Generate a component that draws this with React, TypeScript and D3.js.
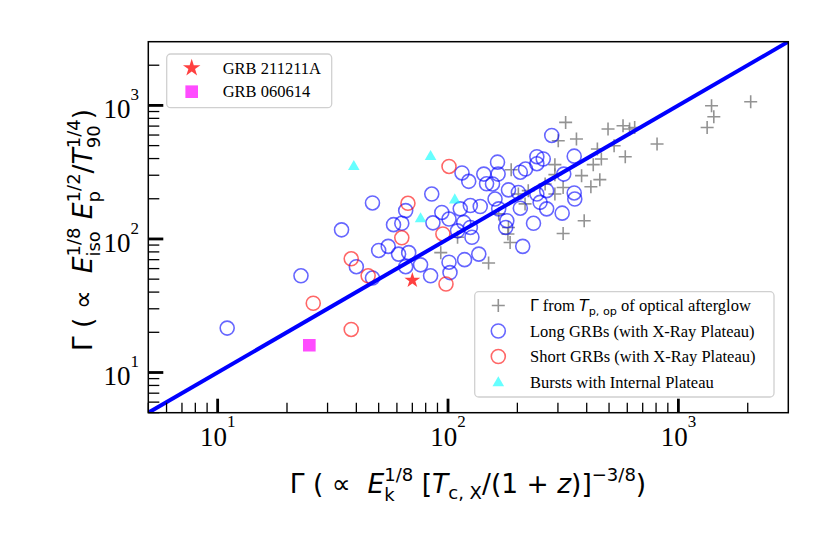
import React, { useRef, useEffect } from "react";
import * as d3 from "d3";

// Gamma from the peak time of the optical afterglow (grey plus)
const opticalX = [2060, 1393, 1425, 1333, 808, 495, 575, 614, 646, 445, 463, 427, 526, 588, 324, 361, 301, 380, 456, 417, 316, 390, 316, 291, 291, 264, 188, 202, 216, 166, 183, 182, 186, 110, 93, 150, 223, 291];
const opticalY = [1066, 995, 823, 684, 514, 666, 705, 666, 684, 472, 397, 360, 499, 413, 746, 560, 544, 298, 278, 246, 243, 137, 110, 360, 303, 258, 330, 217, 183, 154, 122, 109, 94, 103, 79, 66, 230, 217];

// Long GRBs with an X-ray plateau (blue rings)
const longX = [47, 34.5, 23, 11, 85, 65.5, 58, 63, 55, 50, 61, 67.5, 65.5, 76, 84, 40, 47, 94, 86, 115, 123, 143, 147, 164, 165, 156, 206, 217, 243, 259, 243, 318, 353, 282, 353, 355, 313, 183, 202, 243, 268, 160, 166, 138, 125, 113, 101, 110, 117, 127, 125, 180, 178, 251, 268, 235, 211, 136, 118, 101, 102, 206];
const longY = [186, 117, 53, 21.5, 217, 163, 128, 131, 88, 82, 77, 79, 62, 64, 53, 62, 51, 158, 132, 312, 270, 306, 259, 376, 306, 258, 316, 334, 413, 397, 366, 306, 417, 596, 221, 199, 156, 233, 223, 217, 230, 199, 168, 175, 178, 168, 141, 115, 133, 103, 122, 137, 122, 188, 168, 131, 88, 77, 70, 67, 56, 170];

// Short GRBs with an X-ray plateau (red rings)
const shortX = [67, 63, 38, 45, 26, 38, 101, 95, 98];
const shortY = [185, 102, 71, 53, 33, 21, 349, 109, 46];

// Bursts with an internal plateau (cyan triangles)
const internalX = [39, 84, 107, 76];
const internalY = [354, 420, 199, 144];

const grb211211A = [70, 49];
const grb060614 = [25, 16];

const domain = [5, 3000];
const majorTicks = [10, 100, 1000];
const majorExponents = ["1", "2", "3"];

const SANS = "'DejaVu Sans', sans-serif";
const SERIF = "'Liberation Serif', 'Times New Roman', serif";

type Seg = { t: string; f?: "sans" | "serif"; it?: boolean; s?: number; dy?: number };
type Piece = Seg | { sup: Seg; sub: Seg };

// lay out a mathtext-like label piece by piece, returns its width
function drawMath(g: d3.Selection<SVGGElement, unknown, null, undefined>, pieces: Piece[], size: number, fill = "#000") {
  let cx = 0;
  const put = (seg: Seg, x0: number) => {
    const el = g
      .append("text")
      .attr("x", x0)
      .attr("y", (seg.dy ?? 0) * size)
      .attr("font-family", seg.f === "serif" ? SERIF : SANS)
      .attr("font-size", size * (seg.s ?? 1))
      .attr("font-style", seg.it ? "italic" : "normal")
      .attr("fill", fill)
      .style("white-space", "pre")
      .text(seg.t);
    return (el.node() as SVGTextElement).getComputedTextLength();
  };
  for (const p of pieces) {
    if ("sup" in p) {
      const w1 = put(p.sup, cx);
      const w2 = put(p.sub, cx);
      cx += Math.max(w1, w2);
    } else {
      cx += put(p, cx);
    }
  }
  return cx;
}

const sup = (t: string): Seg => ({ t, s: 0.68, dy: -0.45 });
const sub = (t: string): Seg => ({ t, s: 0.68, dy: 0.3 });

export default function App() {
  const svgRef = useRef<SVGSVGElement>(null);

  useEffect(() => {
    if (!svgRef.current) return;
    const svg = d3.select(svgRef.current);
    svg.selectAll("*").remove();

    const left = 148.3, right = 788.3, top = 41.7, bottom = 412.7;
    const x = d3.scaleLog().domain(domain).range([left, right]);
    const y = d3.scaleLog().domain(domain).range([bottom, top]);

    svg.append("rect").attr("width", 830).attr("height", 554).attr("fill", "#fff");

    svg
      .append("clipPath")
      .attr("id", "plotClip")
      .append("rect")
      .attr("x", left)
      .attr("y", top)
      .attr("width", right - left)
      .attr("height", bottom - top);

    const plot = svg.append("g").attr("clip-path", "url(#plotClip)");

    // grey plus markers
    const plus = "M-6.5,0H6.5M0,-6.5V6.5";
    plot
      .selectAll(".opt")
      .data(opticalX.map((v, i) => [v, opticalY[i]]))
      .join("path")
      .attr("d", plus)
      .attr("transform", (d) => `translate(${x(d[0])},${y(d[1])})`)
      .attr("stroke", "#808080")
      .attr("stroke-opacity", 0.85)
      .attr("stroke-width", 1.6)
      .attr("fill", "none");

    // open rings
    const ringR = 7;
    const rings = (xs: number[], ys: number[], color: string) =>
      plot
        .append("g")
        .selectAll("circle")
        .data(xs.map((v, i) => [v, ys[i]]))
        .join("circle")
        .attr("cx", (d) => x(d[0]))
        .attr("cy", (d) => y(d[1]))
        .attr("r", ringR)
        .attr("fill", "none")
        .attr("stroke", color)
        .attr("stroke-opacity", 0.6)
        .attr("stroke-width", 1.6);
    rings(longX, longY, "blue");
    rings(shortX, shortY, "red");

    const tri = d3.symbol(d3.symbolTriangle, 58)()!;
    plot
      .selectAll(".tri")
      .data(internalX.map((v, i) => [v, internalY[i]]))
      .join("path")
      .attr("d", tri)
      .attr("transform", (d) => `translate(${x(d[0])},${y(d[1]) + 1})`)
      .attr("fill", "cyan")
      .attr("fill-opacity", 0.6);

    // Gamma = Gamma line
    plot
      .append("path")
      .attr("d", d3.line<number>().x((d) => x(d)).y((d) => y(d))(domain)!)
      .attr("stroke", "blue")
      .attr("stroke-width", 4)
      .attr("fill", "none");

    const star = d3.symbol(d3.symbolStar, 78)()!;
    const square = d3.symbol(d3.symbolSquare, 160)()!;
    plot
      .append("path")
      .attr("d", star)
      .attr("transform", `translate(${x(grb211211A[0])},${y(grb211211A[1])})`)
      .attr("fill", "red")
      .attr("fill-opacity", 0.75);
    plot
      .append("path")
      .attr("d", square)
      .attr("transform", `translate(${x(grb060614[0])},${y(grb060614[1])})`)
      .attr("fill", "magenta")
      .attr("fill-opacity", 0.7);

    // ticks (inward, bottom and left only)
    const minor: number[] = [];
    [1, 10, 100, 1000].forEach((dec) => {
      for (let k = 2; k <= 9; k++) {
        const v = k * dec;
        if (v >= domain[0] && v < domain[1]) minor.push(v);
      }
    });
    const axes = svg.append("g").attr("stroke", "#000");
    minor.forEach((v) => {
      axes.append("line").attr("x1", x(v)).attr("x2", x(v)).attr("y1", bottom).attr("y2", bottom - 10).attr("stroke-width", 1.3);
      axes.append("line").attr("y1", y(v)).attr("y2", y(v)).attr("x1", left).attr("x2", left + 11).attr("stroke-width", 1.3);
    });
    majorTicks.forEach((v) => {
      axes.append("line").attr("x1", x(v)).attr("x2", x(v)).attr("y1", bottom).attr("y2", bottom - 14).attr("stroke-width", 2.8);
      axes.append("line").attr("y1", y(v)).attr("y2", y(v)).attr("x1", left).attr("x2", left + 15).attr("stroke-width", 2.8);
    });

    svg
      .append("rect")
      .attr("x", left)
      .attr("y", top)
      .attr("width", right - left)
      .attr("height", bottom - top)
      .attr("fill", "none")
      .attr("stroke", "#000")
      .attr("stroke-width", 1.5);

    // tick labels 10^n
    majorTicks.forEach((v, i) => {
      const gx = svg.append("g");
      const w = drawMath(gx, [{ t: "10", f: "serif" }, { t: majorExponents[i], f: "serif", s: 0.63, dy: -0.72 }], 27);
      gx.attr("transform", `translate(${x(v) - w / 2},446)`);
      const gy = svg.append("g");
      const wy = drawMath(gy, [{ t: "10", f: "serif" }, { t: majorExponents[i], f: "serif", s: 0.63, dy: -0.68 }], 27);
      gy.attr("transform", `translate(${139 - wy},${y(v) + 13})`);
    });

    // axis titles
    const titleSize = 26.5;
    const xl = svg.append("g");
    const xw = drawMath(
      xl,
      [
        { t: "Γ ( ∝  " },
        { t: "E", it: true },
        { sup: sup("1/8"), sub: sub("k") },
        { t: " [" },
        { t: "T", it: true },
        { t: "c, X", s: 0.68, dy: 0.22 },
        { t: "/(1 + " },
        { t: "z", it: true },
        { t: ")]" },
        sup("−3/8"),
        { t: ")" },
      ],
      titleSize
    );
    xl.attr("transform", `translate(${468 - xw / 2},493)`);

    const yl = svg.append("g").attr("transform", "translate(92,230) rotate(-90)");
    const yi = yl.append("g");
    const yw = drawMath(
      yi,
      [
        { t: "Γ ( ∝  " },
        { t: "E", it: true },
        { sup: sup("1/8"), sub: sub("iso") },
        { t: " " },
        { t: "E", it: true },
        { sup: sup("1/2"), sub: sub("p") },
        { t: "/" },
        { t: "T", it: true },
        { sup: sup("1/4"), sub: sub("90") },
        { t: ")" },
      ],
      titleSize
    );
    yi.attr("transform", `translate(${-yw / 2},0)`);

    // legends
    const frame = (lx: number, ly: number, lw: number, lh: number) =>
      svg
        .append("rect")
        .attr("x", lx)
        .attr("y", ly)
        .attr("width", lw)
        .attr("height", lh)
        .attr("rx", 4)
        .attr("fill", "#fff")
        .attr("fill-opacity", 0.8)
        .attr("stroke", "#d0d0d0")
        .attr("stroke-width", 1.3);

    const legFont = 16.5;
    frame(166.7, 54, 165, 53.7);
    svg.append("path").attr("d", d3.symbol(d3.symbolStar, 95)()!).attr("transform", "translate(191.7,68)").attr("fill", "red").attr("fill-opacity", 0.75);
    svg.append("path").attr("d", square).attr("transform", "translate(191.7,91.7)").attr("fill", "magenta").attr("fill-opacity", 0.7);
    svg.append("text").attr("x", 222.7).attr("y", 73.5).attr("font-family", SERIF).attr("font-size", legFont).text("GRB 211211A");
    svg.append("text").attr("x", 222.7).attr("y", 97.3).attr("font-family", SERIF).attr("font-size", legFont).text("GRB 060614");

    frame(474.7, 291.7, 299.3, 105.3);
    const rows = [305.5, 331, 356.5, 382];
    const mx = 498.3, tx = 530;
    svg.append("path").attr("d", plus).attr("transform", `translate(${mx},${rows[0]})`).attr("stroke", "#808080").attr("stroke-opacity", 0.85).attr("stroke-width", 1.6);
    svg.append("circle").attr("cx", mx).attr("cy", rows[1]).attr("r", ringR).attr("fill", "none").attr("stroke", "blue").attr("stroke-opacity", 0.6).attr("stroke-width", 1.6);
    svg.append("circle").attr("cx", mx).attr("cy", rows[2]).attr("r", ringR).attr("fill", "none").attr("stroke", "red").attr("stroke-opacity", 0.6).attr("stroke-width", 1.6);
    svg.append("path").attr("d", tri).attr("transform", `translate(${mx},${rows[3] + 1})`).attr("fill", "cyan").attr("fill-opacity", 0.6);

    const l0 = svg.append("g").attr("transform", `translate(${tx},${rows[0] + 5.5})`);
    drawMath(
      l0,
      [
        { t: "Γ", s: 0.95 },
        { t: " from ", f: "serif" },
        { t: "T", it: true, s: 0.95 },
        { t: "p, op", s: 0.68, dy: 0.25 },
        { t: " of optical afterglow", f: "serif" },
      ],
      legFont
    );
    ["Long GRBs (with X-Ray Plateau)", "Short GRBs (with X-Ray Plateau)", "Bursts with Internal Plateau"].forEach((s, i) => {
      svg.append("text").attr("x", tx).attr("y", rows[i + 1] + 5.5).attr("font-family", SERIF).attr("font-size", legFont).text(s);
    });
  }, []);

  return <svg ref={svgRef} width={830} height={554} style={{ position: "absolute", left: 0, top: 0 }} />;
}
